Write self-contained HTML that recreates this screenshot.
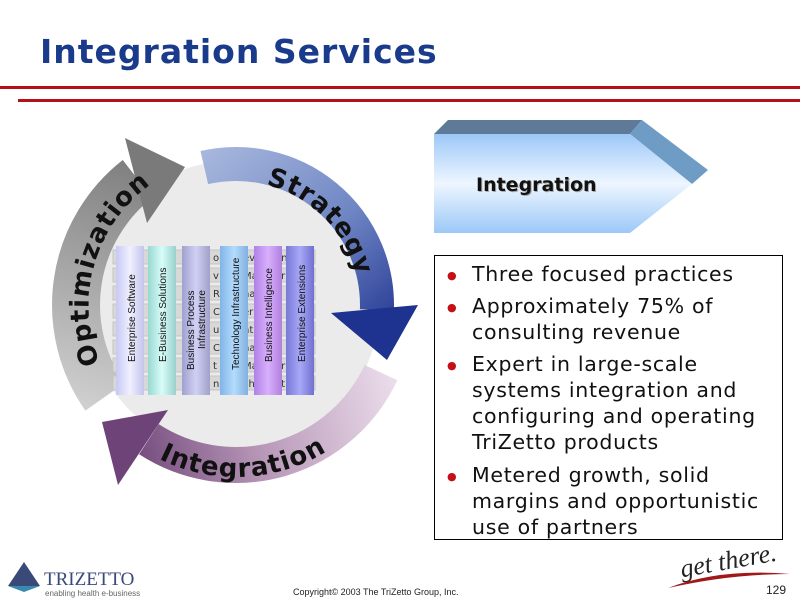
<!DOCTYPE html>
<html><head><meta charset="utf-8"><style>
html,body{margin:0;padding:0;background:#fff;width:800px;height:600px;overflow:hidden}
svg{display:block}
</style></head><body>
<svg width="800" height="600" viewBox="0 0 800 600" xmlns="http://www.w3.org/2000/svg">
<defs>
<linearGradient id="gs" gradientUnits="userSpaceOnUse" x1="210" y1="150" x2="390" y2="360"><stop offset="0" stop-color="#a6b6dc"/><stop offset="0.5" stop-color="#6f86c4"/><stop offset="1" stop-color="#1a2c8c"/></linearGradient>
<linearGradient id="gi" gradientUnits="userSpaceOnUse" x1="390" y1="370" x2="110" y2="440"><stop offset="0" stop-color="#eadcea"/><stop offset="0.5" stop-color="#b898b8"/><stop offset="1" stop-color="#6a3f74"/></linearGradient>
<linearGradient id="go" gradientUnits="userSpaceOnUse" x1="100" y1="410" x2="180" y2="150"><stop offset="0" stop-color="#cfcfcf"/><stop offset="1" stop-color="#777"/></linearGradient>
<linearGradient id="pb" x1="0" y1="0" x2="0" y2="1"><stop offset="0" stop-color="#9cc8f8"/><stop offset="0.5" stop-color="#eef6ff"/><stop offset="1" stop-color="#9cc8f8"/></linearGradient>
<linearGradient id="c1" x1="0" x2="1"><stop offset="0" stop-color="#c8c8f4"/><stop offset=".5" stop-color="#f0f0ff"/><stop offset="1" stop-color="#c4c4ec"/></linearGradient>
<linearGradient id="c2" x1="0" x2="1"><stop offset="0" stop-color="#98d8d0"/><stop offset=".5" stop-color="#d8fcf8"/><stop offset="1" stop-color="#98d0cc"/></linearGradient>
<linearGradient id="c3" x1="0" x2="1"><stop offset="0" stop-color="#a0a0d0"/><stop offset=".5" stop-color="#d0d0f4"/><stop offset="1" stop-color="#a0a0c8"/></linearGradient>
<linearGradient id="c4" x1="0" x2="1"><stop offset="0" stop-color="#80b4e8"/><stop offset=".5" stop-color="#b4dcfc"/><stop offset="1" stop-color="#80b0e0"/></linearGradient>
<linearGradient id="c5" x1="0" x2="1"><stop offset="0" stop-color="#b080e8"/><stop offset=".5" stop-color="#d8b0fc"/><stop offset="1" stop-color="#b080e0"/></linearGradient>
<linearGradient id="c6" x1="0" x2="1"><stop offset="0" stop-color="#7878d8"/><stop offset=".5" stop-color="#a8a8f8"/><stop offset="1" stop-color="#7070d0"/></linearGradient>
<path id="ts" d="M266,184.7 A124,124 0 0 1 358.1,283.5"/>
<path id="to" d="M99.8,362.8 A150,150 0 0 1 173.5,170.9"/>
<path id="ti" d="M155.3,456.9 A172,172 0 0 0 346.6,436.8"/>
</defs>

<text x="40" y="63" font-family="DejaVu Sans, Liberation Sans, sans-serif" font-weight="bold" font-size="33" letter-spacing="1" fill="#1a3a8c">Integration Services</text>
<rect x="0" y="86" width="800" height="3" fill="#b41016"/>
<rect x="18" y="99" width="782" height="3" fill="#b41016"/>

<circle cx="233" cy="307" r="146" fill="#ebebeb"/>

<path d="M105,396.8 A160,160 0 0 1 137.5,178.9" fill="none" stroke="url(#go)" stroke-width="48"/>
<polygon points="125,138 147,223 185,167" fill="#7a7a7a"/>
<path d="M204.3,167.6 A141,141 0 0 1 376.9,309.9" fill="none" stroke="url(#gs)" stroke-width="34"/>
<polygon points="331,313 418,305 387,360" fill="#1e3290"/>
<path d="M381,372.6 A160,160 0 0 1 148.9,439.2" fill="none" stroke="url(#gi)" stroke-width="36"/>
<polygon points="168,410 118,485 102,422" fill="#6e4478"/>

<g font-family="DejaVu Sans, Liberation Sans, sans-serif" font-weight="bold" font-size="26" fill="#111">
<text letter-spacing="1"><textPath href="#ts">Strategy</textPath></text>
<text letter-spacing="1"><textPath href="#to">Optimization</textPath></text>
<text letter-spacing="1"><textPath href="#ti" startOffset="4">Integration</textPath></text>
</g>

<g fill="#d8d8d8" stroke="#c4c4c4" stroke-width="1">
<rect x="113" y="250" width="202" height="14"/><rect x="113" y="268" width="202" height="14"/>
<rect x="113" y="286" width="202" height="14"/><rect x="113" y="304" width="202" height="14"/>
<rect x="113" y="322" width="202" height="14"/><rect x="113" y="340" width="202" height="14"/>
<rect x="113" y="358" width="202" height="14"/><rect x="113" y="376" width="202" height="14"/>
</g>
<g font-family="DejaVu Sans, sans-serif" font-size="10" fill="#333">
<text x="213" y="261">o</text><text x="243" y="261">ev</text><text x="275" y="261">en</text>
<text x="213" y="279">v</text><text x="243" y="279">Mar</text><text x="275" y="279">er</text>
<text x="213" y="297">R</text><text x="243" y="297">na</text><text x="275" y="297">t</text>
<text x="213" y="315">C</text><text x="243" y="315">er</text><text x="275" y="315">e</text>
<text x="213" y="333">u</text><text x="243" y="333">nt</text><text x="275" y="333">e</text>
<text x="213" y="351">C</text><text x="243" y="351">na</text><text x="275" y="351">t</text>
<text x="213" y="369">t</text><text x="243" y="369">Mar</text><text x="275" y="369">er</text>
<text x="213" y="387">n</text><text x="243" y="387">ch</text><text x="275" y="387">at</text>
</g>
<rect x="116" y="246" width="28" height="149" fill="url(#c1)"/>
<rect x="148" y="246" width="28" height="149" fill="url(#c2)"/>
<rect x="182" y="246" width="28" height="149" fill="url(#c3)"/>
<rect x="220" y="246" width="28" height="149" fill="url(#c4)"/>
<rect x="254" y="246" width="28" height="149" fill="url(#c5)"/>
<rect x="286" y="246" width="28" height="149" fill="url(#c6)"/>
<g font-family="Liberation Sans, sans-serif" font-size="10" fill="#111">
<text transform="translate(135,362) rotate(-90)">Enterprise Software</text>
<text transform="translate(166,362) rotate(-90)">E-Business Solutions</text>
<text transform="translate(194,370) rotate(-90)">Business Process</text>
<text transform="translate(205,349) rotate(-90)">Infrastructure</text>
<text transform="translate(239,370) rotate(-90)">Technology Infrastructure</text>
<text transform="translate(272,362) rotate(-90)">Business Intelligence</text>
<text transform="translate(305,362) rotate(-90)">Enterprise Extensions</text>
</g>

<polygon points="434,134 448,120 642,120 630,134" fill="#5e7a98"/>
<polygon points="630,134 642,120 708,170 692,184" fill="#6e9cc4"/>
<polygon points="434,134 630,134 692,184 630,233 434,233" fill="url(#pb)"/>
<text x="477" y="192" font-family="DejaVu Sans, sans-serif" font-weight="bold" font-size="19" fill="#aaa">Integration</text>
<text x="476" y="191" font-family="DejaVu Sans, sans-serif" font-weight="bold" font-size="19" fill="#111">Integration</text>

<rect x="434.5" y="255.5" width="348" height="284" fill="#fff" stroke="#000" stroke-width="1"/>
<g font-family="DejaVu Sans, Verdana, sans-serif" font-size="20.5" letter-spacing="0.7" fill="#111">
<text x="447" y="279" fill="#c41016" font-size="11">●</text>
<text x="472" y="281">Three focused practices</text>
<text x="447" y="311" fill="#c41016" font-size="11">●</text>
<text x="472" y="313">Approximately 75% of</text>
<text x="472" y="339">consulting revenue</text>
<text x="447" y="369" fill="#c41016" font-size="11">●</text>
<text x="472" y="371">Expert in large-scale</text>
<text x="472" y="397">systems integration and</text>
<text x="472" y="423">configuring and operating</text>
<text x="472" y="449">TriZetto products</text>
<text x="447" y="480" fill="#c41016" font-size="11">●</text>
<text x="472" y="482">Metered growth, solid</text>
<text x="472" y="508">margins and opportunistic</text>
<text x="472" y="534">use of partners</text>
</g>

<text x="680" y="574" font-family="Liberation Serif, serif" font-style="italic" font-size="26" fill="#222" transform="rotate(-10 700 565)">get there.</text>
<path d="M668,588 Q720,568 790,574 Q730,574 668,588Z" fill="#a01818"/>
<text x="766" y="594" font-family="Liberation Sans, sans-serif" font-size="12" fill="#222">129</text>

<text x="293" y="595" font-family="Liberation Sans, sans-serif" font-size="9" fill="#222">Copyright© 2003 The TriZetto Group, Inc.</text>
<polygon points="24,562 8,586 40,586" fill="#3a4a78"/>
<polygon points="8,586 40,586 24,592" fill="#3a8ab0"/>
<text x="44" y="585" font-family="Liberation Serif, serif" font-size="19" fill="#3a4a78">TRIZETTO</text>
<text x="45" y="596" font-family="Liberation Sans, sans-serif" font-size="8" fill="#666">enabling health e-business</text>
</svg>
</body></html>
